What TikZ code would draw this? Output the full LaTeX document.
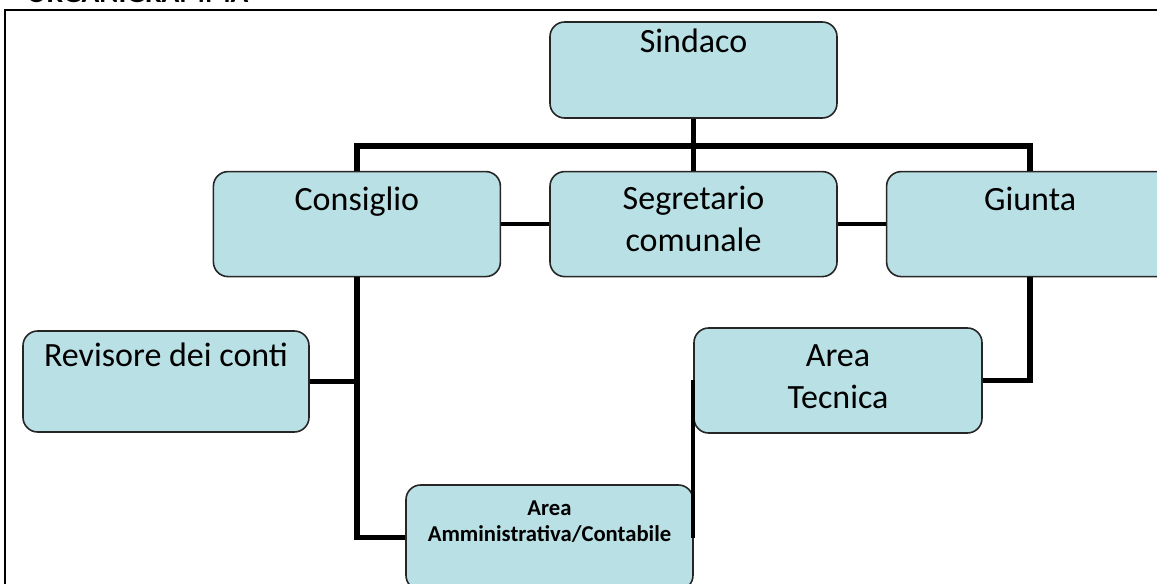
\documentclass[tikz,border=0pt]{standalone}
\usepackage{fontspec}
\setmainfont{Carlito}
\usetikzlibrary{positioning}
\definecolor{celeste}{RGB}{185,224,228}
% box content: width, height, first baseline, text
\newcommand{\casella}[4]{\begin{minipage}[t][#2][t]{#1}\centering\rule{0pt}{#3}#4\end{minipage}}

\begin{document}
\begin{tikzpicture}[x=0.75pt,y=-0.75pt]
	\tikzstyle{unit}=[rectangle, rounded corners=11pt, draw=black!85, line width=1.2pt, fill=celeste, inner sep=0pt, font=\fontsize{25.5pt}{31.5pt}\selectfont]
	\tikzstyle{small}=[font=\fontsize{17pt}{20.25pt}\selectfont\bfseries]
	\tikzstyle{tree}=[line width=4.2pt]
	\tikzstyle{link}=[line width=3pt]
	\useasboundingbox (0,0) rectangle (1157,584);
	% frame of the page
	\draw[line width=1.5pt] (5,600) -- (5,10) -- (1170,10);
	\node[font=\fontsize{22pt}{26pt}\selectfont\bfseries, anchor=base west] (titolo) at (22,3) {ORGANIGRAMMA};

	\node[unit] (sindaco) at (693.5,70) {\casella{215.25pt}{72pt}{23.25pt}{Sindaco}};
	\node[unit] (segretario) [below=39pt of sindaco] {\casella{215.25pt}{78.75pt}{28.5pt}{Segretario\\comunale}};
	\node[unit] (consiglio) [left=36pt of segretario] {\casella{215.25pt}{78.75pt}{29.25pt}{Consiglio}};
	\node[unit] (giunta) [right=36pt of segretario] {\casella{215.25pt}{78.75pt}{29.25pt}{Giunta}};
	\node[unit] (revisore) at (166,381.5) {\casella{214.5pt}{75.75pt}{27pt}{Revisore dei conti}};
	\node[unit] (tecnica) at (838,380.5) {\casella{216pt}{78.75pt}{29.25pt}{Area\\Tecnica}};
	\node[unit, small] (amministrativa) at (549.5,537.5) {\casella{215.25pt}{78.75pt}{22.5pt}{Area\\Amministrativa/Contabile}};
%	\node[unit] (ufficio) [below=of tecnica] {};

	\coordinate (bus) at (693.5,146);
	\path (sindaco) edge [tree] (segretario)
	(consiglio) edge [link] (segretario)
	(segretario) edge [link] (giunta);
	\draw[tree] (consiglio.north) |- (bus) -| (giunta.north);
	\draw[tree] (consiglio.south) |- (amministrativa.west);
	\draw[tree] (revisore.east) -- (revisore.east -| consiglio.south);
	\draw[tree] (giunta.south) |- (tecnica.east);
	\draw[link] (tecnica.west) -- (tecnica.west |- amministrativa.east);
\end{tikzpicture}
\end{document}
